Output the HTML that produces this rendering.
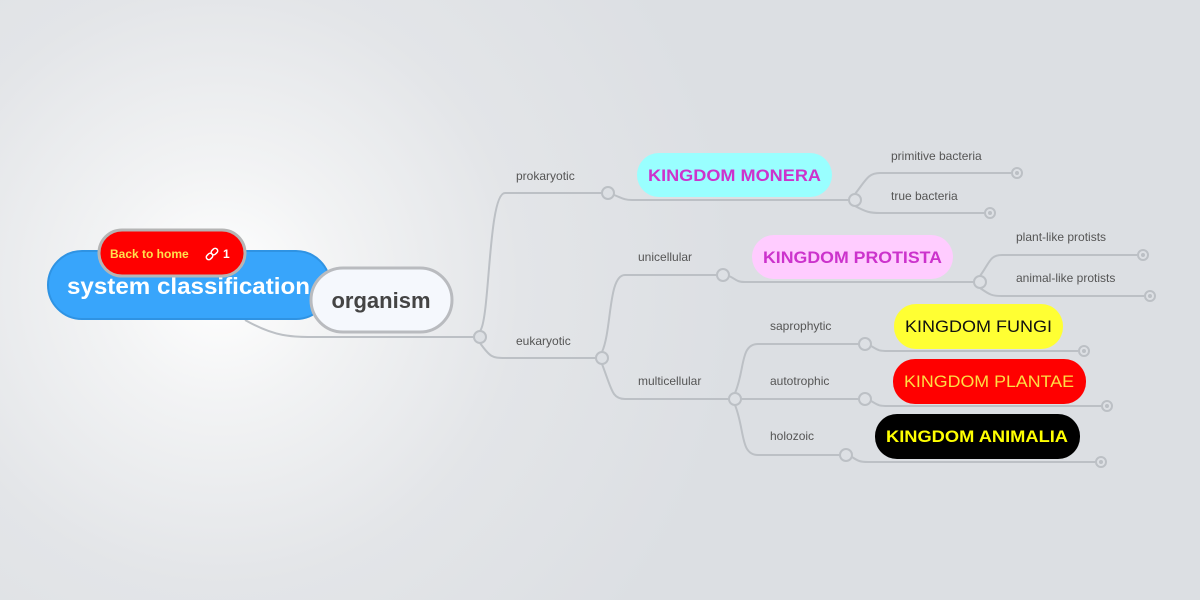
<!DOCTYPE html>
<html><head><meta charset="utf-8"><style>
html,body{margin:0;padding:0;width:1200px;height:600px;overflow:hidden}
body{background:radial-gradient(circle at 220px 285px,#ffffff 0,#f2f3f4 120px,#e3e5e8 300px,#dcdfe3 520px);}
svg{position:absolute;left:0;top:0}
text{font-family:"Liberation Sans",sans-serif}
</style></head><body>
<svg width="1200" height="600" viewBox="0 0 1200 600">
<g fill="none" stroke="#bcc0c5" stroke-width="2">
<path d="M245,320 C275,337 290,337 320,337 L474,337"/>
<path d="M480,331 C490,320 488,193 505,193 L602,193"/>
<path d="M614,195 C622,198 624,200 632,200 L849,200"/>
<path d="M855,194 C866,180 868,173 880,173 L1011,173"/>
<path d="M855,206 C866,212 870,213 880,213 L984,213"/>
<path d="M480,343 C490,357 492,358 505,358 L596,358"/>
<path d="M602,352 C612,330 608,275 625,275 L717,275"/>
<path d="M602,364 C612,390 612,399 625,399 L729,399"/>
<path d="M729,276 C736,279 736,282 745,282 L974,282"/>
<path d="M980,276 C990,262 990,255 1002,255 L1137,255"/>
<path d="M980,288 C990,295 992,296 1002,296 L1144,296"/>
<path d="M735,393 C745,370 740,344 758,344 L859,344"/>
<path d="M741,399 L859,399"/>
<path d="M735,405 C745,430 740,455 758,455 L840,455"/>
<path d="M871,346 C878,350 878,351 888,351 L1078,351"/>
<path d="M871,401 C878,405 878,406 888,406 L1101,406"/>
<path d="M852,457 C858,461 860,462 868,462 L1095,462"/>
</g>
<g fill="#dde0e4" stroke="#bcc0c5" stroke-width="2">
<circle cx="480" cy="337" r="6"/><circle cx="608" cy="193" r="6"/><circle cx="855" cy="200" r="6"/>
<circle cx="602" cy="358" r="6"/><circle cx="723" cy="275" r="6"/><circle cx="735" cy="399" r="6"/>
<circle cx="980" cy="282" r="6"/><circle cx="865" cy="344" r="6"/><circle cx="865" cy="399" r="6"/><circle cx="846" cy="455" r="6"/>
<circle cx="1017" cy="173" r="5"/><circle cx="990" cy="213" r="5"/><circle cx="1143" cy="255" r="5"/><circle cx="1150" cy="296" r="5"/>
<circle cx="1084" cy="351" r="5"/><circle cx="1107" cy="406" r="5"/><circle cx="1101" cy="462" r="5"/>
</g>
<g fill="#bcc0c5"><circle cx="1017" cy="173" r="2"/><circle cx="990" cy="213" r="2"/><circle cx="1143" cy="255" r="2"/><circle cx="1150" cy="296" r="2"/><circle cx="1084" cy="351" r="2"/><circle cx="1107" cy="406" r="2"/><circle cx="1101" cy="462" r="2"/></g>
<g font-size="12" fill="#555">
<text x="516" y="180">prokaryotic</text><text x="516" y="345">eukaryotic</text>
<text x="891" y="160">primitive bacteria</text><text x="891" y="200">true bacteria</text>
<text x="638" y="261">unicellular</text><text x="638" y="385">multicellular</text>
<text x="1016" y="241">plant-like protists</text><text x="1016" y="282">animal-like protists</text>
<text x="770" y="330">saprophytic</text><text x="770" y="385">autotrophic</text><text x="770" y="440">holozoic</text>
</g>
<rect x="48" y="251" width="282" height="68" rx="34" fill="#38a5fb" stroke="#2f93e3" stroke-width="2"/>
<text x="67" y="294" font-size="23" font-weight="bold" fill="#fff" textLength="243" lengthAdjust="spacingAndGlyphs">system classification</text>
<rect x="99" y="230" width="146" height="46" rx="23" fill="#ff0000" stroke="#b5b5b5" stroke-width="3"/>
<text x="110" y="258" font-size="12" font-weight="bold" fill="#ffe14d">Back to home</text>
<g fill="none" stroke="#fff" stroke-width="1.5" transform="translate(212,254) rotate(-45)"><rect x="-7" y="-2.5" width="7" height="5" rx="2.5"/><rect x="0" y="-2.5" width="7" height="5" rx="2.5"/></g>
<text x="223" y="258" font-size="12" font-weight="bold" fill="#fff">1</text>
<rect x="311" y="268" width="141" height="64" rx="32" fill="#f5f8fd" stroke="#b9bbbf" stroke-width="3"/>
<text x="381" y="308" font-size="22" font-weight="bold" fill="#444" text-anchor="middle">organism</text>
<rect x="637" y="153" width="195" height="44" rx="22" fill="#99ffff"/>
<text x="648" y="181" font-size="17" font-weight="bold" fill="#cc33cc" textLength="173" lengthAdjust="spacingAndGlyphs">KINGDOM MONERA</text>
<rect x="752" y="235" width="201" height="44" rx="22" fill="#ffccff"/>
<text x="763" y="263" font-size="17" font-weight="bold" fill="#cc33cc" textLength="179" lengthAdjust="spacingAndGlyphs">KINGDOM PROTISTA</text>
<rect x="894" y="304" width="169" height="45" rx="22" fill="#ffff33"/>
<text x="905" y="332" font-size="17" fill="#111" textLength="147" lengthAdjust="spacingAndGlyphs">KINGDOM FUNGI</text>
<rect x="893" y="359" width="193" height="45" rx="22" fill="#ff0000"/>
<text x="904" y="387" font-size="17" fill="#ffdd44" textLength="170" lengthAdjust="spacingAndGlyphs">KINGDOM PLANTAE</text>
<rect x="875" y="414" width="205" height="45" rx="22" fill="#000"/>
<text x="886" y="442" font-size="17" font-weight="bold" fill="#ffff00" textLength="182" lengthAdjust="spacingAndGlyphs">KINGDOM ANIMALIA</text>
</svg>
</body></html>
